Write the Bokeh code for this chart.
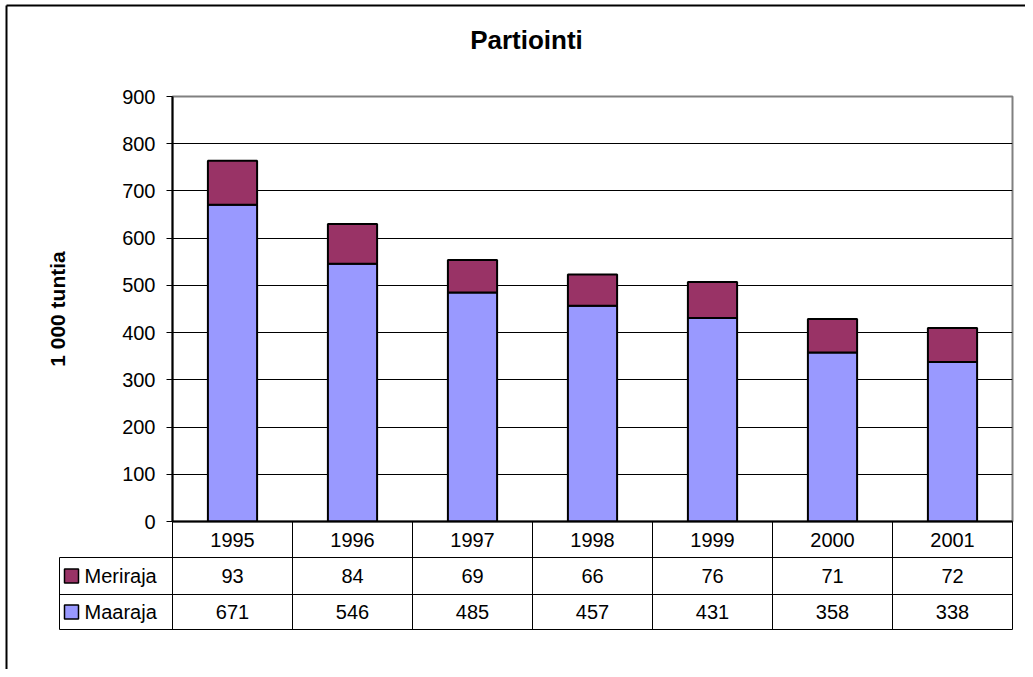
from bokeh.plotting import figure
from bokeh.models import Range1d, FixedTicker, ColumnDataSource
from bokeh.core.properties import value
from bokeh.embed import file_html
from bokeh.resources import INLINE

# ---------------- data ----------------
years = ["1995", "1996", "1997", "1998", "1999", "2000", "2001"]
meriraja = [93, 84, 69, 66, 76, 71, 72]
maaraja = [671, 546, 485, 457, 431, 358, 338]
series_names = ["Meriraja", "Maaraja"]      # table rows, top to bottom
y_ticks = [0, 100, 200, 300, 400, 500, 600, 700, 800, 900]
chart_title = "Partiointi"
y_axis_title = "1 000 tuntia"

# ---------------- style / layout ----------------
FONT = "Liberation Sans"
C_MAA = "#9999FF"
C_MERI = "#993366"
W, H = 1025, 669
FL, FR, FT, FB = 172, 1012, 96, 521   # plot-area edges (px)
YMAX = y_ticks[-1]
n = len(years)


def dx(px):
    return (px - FL) / (FR - FL) * n


def dy(py):
    return (FB - py) / (FB - FT) * YMAX


p = figure(width=W, height=H, x_range=Range1d(0, n), y_range=Range1d(0, YMAX),
           output_backend="svg", toolbar_location=None,
           min_border_left=FL, min_border_right=W - FR,
           min_border_top=FT, min_border_bottom=H - FB)
p.background_fill_color = "white"
p.border_fill_color = "white"
p.outline_line_color = "#808080"
p.outline_line_width = 2

# bars
xs = [i + 0.5 for i in range(n)]
src = ColumnDataSource(dict(x=xs, year=years, Maaraja=maaraja, Meriraja=meriraja))
p.vbar_stack(["Maaraja", "Meriraja"], x="x", width=0.41, source=src,
             fill_color=[C_MAA, C_MERI], line_color="black", line_width=2)

# grid
p.xgrid.visible = False
p.ygrid.ticker = FixedTicker(ticks=y_ticks)
p.ygrid.grid_line_color = "black"
p.ygrid.grid_line_width = 1

# y axis
p.yaxis.ticker = FixedTicker(ticks=y_ticks)
p.yaxis.axis_line_color = "black"
p.yaxis.axis_line_width = 2
p.yaxis.major_tick_in = 0
p.yaxis.major_tick_out = 6
p.yaxis.major_tick_line_color = "black"
p.yaxis.minor_tick_line_color = None
p.yaxis.major_label_text_font = FONT
p.yaxis.major_label_text_font_size = "20px"
p.yaxis.major_label_text_color = "black"
p.yaxis.major_label_standoff = 11
p.yaxis.axis_label = y_axis_title
p.yaxis.axis_label_text_font = FONT
p.yaxis.axis_label_text_font_size = "21px"
p.yaxis.axis_label_text_font_style = "bold"
p.yaxis.axis_label_text_color = "black"
p.yaxis.axis_label_standoff = 50

# x axis: only the line; the labels are in the data table
p.xaxis.ticker = FixedTicker(ticks=[])
p.xaxis.axis_line_color = "black"
p.xaxis.axis_line_width = 2
p.xaxis.major_label_text_font_size = "0px"
p.xaxis.major_tick_line_color = None
p.xaxis.minor_tick_line_color = None

# title (centred over the whole chart area)
p.text([dx(526)], [dy(39)], text=[chart_title], text_font=value(FONT), text_font_size="26px",
       text_font_style="bold", text_color="black", text_align="center",
       text_baseline="middle", level="overlay")

# ---------------- data table under the chart ----------------
row_edges = [521, 557, 594, 629]
label_left = 59
hx0, hy0, hx1, hy1 = [], [], [], []
for e in row_edges[1:]:
    hx0.append(dx(label_left)); hx1.append(dx(FR)); hy0.append(dy(e)); hy1.append(dy(e))
vx0, vy0, vx1, vy1 = [], [], [], []
for k in range(n + 1):
    vx0.append(k); vx1.append(k); vy0.append(dy(row_edges[0])); vy1.append(dy(row_edges[-1]))
vx0.append(dx(label_left)); vx1.append(dx(label_left)); vy0.append(dy(row_edges[1])); vy1.append(dy(row_edges[-1]))
p.segment(hx0 + vx0, hy0 + vy0, hx1 + vx1, hy1 + vy1, line_color="black", line_width=1, level="overlay")

row_mid = [dy((row_edges[i] + row_edges[i + 1]) / 2) for i in range(3)]
tx, ty, tt = [], [], []
for i in range(n):
    tx += [xs[i]] * 3
    ty += row_mid
    tt += [years[i], str(meriraja[i]), str(maaraja[i])]
p.text(tx, ty, text=tt, text_font=value(FONT), text_font_size="20px", text_color="black",
       text_align="center", text_baseline="middle", level="overlay")

# legend keys in the table
half_w = 7 / (FR - FL) * n
half_h = 7 / (FB - FT) * YMAX
for yc, col in zip(row_mid[1:], [C_MERI, C_MAA]):
    kx = dx(71)
    p.patch([kx - half_w, kx + half_w, kx + half_w, kx - half_w],
            [yc - half_h, yc - half_h, yc + half_h, yc + half_h],
            fill_color=col, line_color="black", line_width=1.5, level="overlay")
p.text([dx(84)] * 2, row_mid[1:], text=series_names, text_font=value(FONT), text_font_size="20px",
       text_color="black", text_align="left", text_baseline="middle", level="overlay")

# outer chart-area border
p.segment([dx(6), dx(6)], [dy(5), dy(5)],
          [dx(6), dx(W + 50)], [dy(H + 50), dy(5)],
          line_color="black", line_width=2, level="overlay")

open("out.html", "w").write(file_html(p, INLINE))
